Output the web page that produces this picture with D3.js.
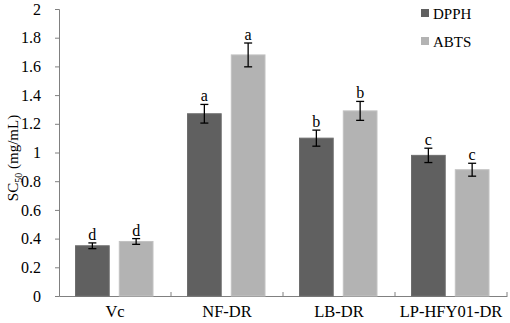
<!DOCTYPE html>
<html>
<head>
<meta charset="utf-8">
<script src="https://cdn.jsdelivr.net/npm/d3@7"></script>
<style>
  body { margin: 0; background: #fff; }
  svg text { font-family: 'Liberation Serif', 'DejaVu Serif', serif; fill: #000; }
</style>
</head>
<body>
<div id="graph"></div>
<script>
var groups = ['Vc', 'NF-DR', 'LB-DR', 'LP-HFY01-DR']
var seriesNames = ['DPPH', 'ABTS']
var dpph = [0.35, 1.27, 1.10, 0.98]
var abts = [0.38, 1.68, 1.29, 0.88]
var dpphErr = [0.02, 0.065, 0.056, 0.05]
var abtsErr = [0.02, 0.083, 0.066, 0.045]
var dpphLetters = ['d', 'a', 'b', 'c']
var abtsLetters = ['d', 'a', 'b', 'c']
var yTicks = [0, 0.2, 0.4, 0.6, 0.8, 1, 1.2, 1.4, 1.6, 1.8, 2]

var colors = ['#606060', '#b3b3b3']
var strokes = ['#6e6e6e', '#c2c2c2']
var serif = "'Liberation Serif', 'DejaVu Serif', serif"

var width = 510, height = 323
var margin = {top: 9, left: 59, right: 3, bottom: 27}

var svg = d3.select('#graph').append('svg')
  .attr('width', width).attr('height', height)
  .style('font-family', serif)

var x = d3.scaleBand().domain(groups)
  .range([margin.left, width - margin.right])

var inner = d3.scaleBand().domain(seriesNames)
  .range([16.5, x.bandwidth() - 18]).paddingInner(0.23)

var y = d3.scaleLinear().domain([0, 2])
  .range([height - margin.bottom, margin.top])

var rows = groups.map((g, i) => [
  {g, k: 0, v: dpph[i], e: dpphErr[i], l: dpphLetters[i]},
  {g, k: 1, v: abts[i], e: abtsErr[i], l: abtsLetters[i]}
]).flat()

// axes
var yAxis = svg.append('g')
  .attr('transform', `translate(${margin.left},0)`)
  .call(d3.axisLeft(y).tickValues(yTicks).tickSize(4).tickPadding(14)
    .tickFormat(d => String(+d.toFixed(1))))
  .attr('font-family', serif).attr('font-size', 16)
yAxis.select('.domain').attr('stroke', '#808080')
yAxis.selectAll('.tick line').attr('stroke', '#808080')

var xAxis = svg.append('g')
  .attr('transform', `translate(0,${y(0)})`)
  .call(d3.axisBottom(x).tickSize(0).tickPadding(9))
  .attr('font-family', serif).attr('font-size', 16.5)
xAxis.select('.domain').attr('stroke', '#808080')

// category dividers
svg.selectAll('line.div').data(groups).join('line')
  .attr('class', 'div')
  .attr('x1', d => x(d) + x.bandwidth()).attr('x2', d => x(d) + x.bandwidth())
  .attr('y1', y(0)).attr('y2', y(0) - 4)
  .attr('stroke', '#808080')

// bars
svg.selectAll('rect.bar').data(rows).join('rect')
  .attr('class', 'bar')
  .attr('x', d => x(d.g) + inner(seriesNames[d.k]))
  .attr('width', inner.bandwidth())
  .attr('y', d => y(d.v))
  .attr('height', d => y(0) - y(d.v))
  .attr('fill', d => colors[d.k])
  .attr('stroke', d => strokes[d.k])

// error bars
var cx = d => x(d.g) + inner(seriesNames[d.k]) + inner.bandwidth() / 2
var eb = svg.selectAll('g.err').data(rows).join('g').attr('class', 'err')
  .attr('stroke', '#000').attr('stroke-width', 1.3)
eb.append('line').attr('x1', cx).attr('x2', cx)
  .attr('y1', d => y(d.v + d.e)).attr('y2', d => y(d.v - d.e))
eb.append('line').attr('x1', d => cx(d) - 4).attr('x2', d => cx(d) + 4)
  .attr('y1', d => y(d.v + d.e)).attr('y2', d => y(d.v + d.e))
eb.append('line').attr('x1', d => cx(d) - 4).attr('x2', d => cx(d) + 4)
  .attr('y1', d => y(d.v - d.e)).attr('y2', d => y(d.v - d.e))

// letters
svg.selectAll('text.letter').data(rows).join('text')
  .attr('class', 'letter')
  .attr('x', cx)
  .attr('y', d => y(d.v + d.e) - 3)
  .attr('text-anchor', 'middle')
  .attr('font-size', 16)
  .text(d => d.l)

// y label
var yl = svg.append('text')
  .attr('transform', `translate(18,158) rotate(-90)`)
  .attr('text-anchor', 'middle')
  .attr('font-size', 15)
yl.append('tspan').text('SC')
yl.append('tspan').text('50').attr('dy', 4).attr('font-size', 10)
yl.append('tspan').text(' (mg/mL)').attr('dy', -4)

// legend
var leg = svg.selectAll('g.leg').data(seriesNames).join('g').attr('class', 'leg')
  .attr('transform', (d, i) => `translate(421,${13 + i * 28})`)
leg.append('rect').attr('x', 0).attr('y', -4).attr('width', 8).attr('height', 8)
  .attr('fill', (d, i) => colors[i])
leg.append('text').attr('x', 12).attr('y', 5.5)
  .attr('font-size', 15)
  .text(d => d)
</script>
</body>
</html>
